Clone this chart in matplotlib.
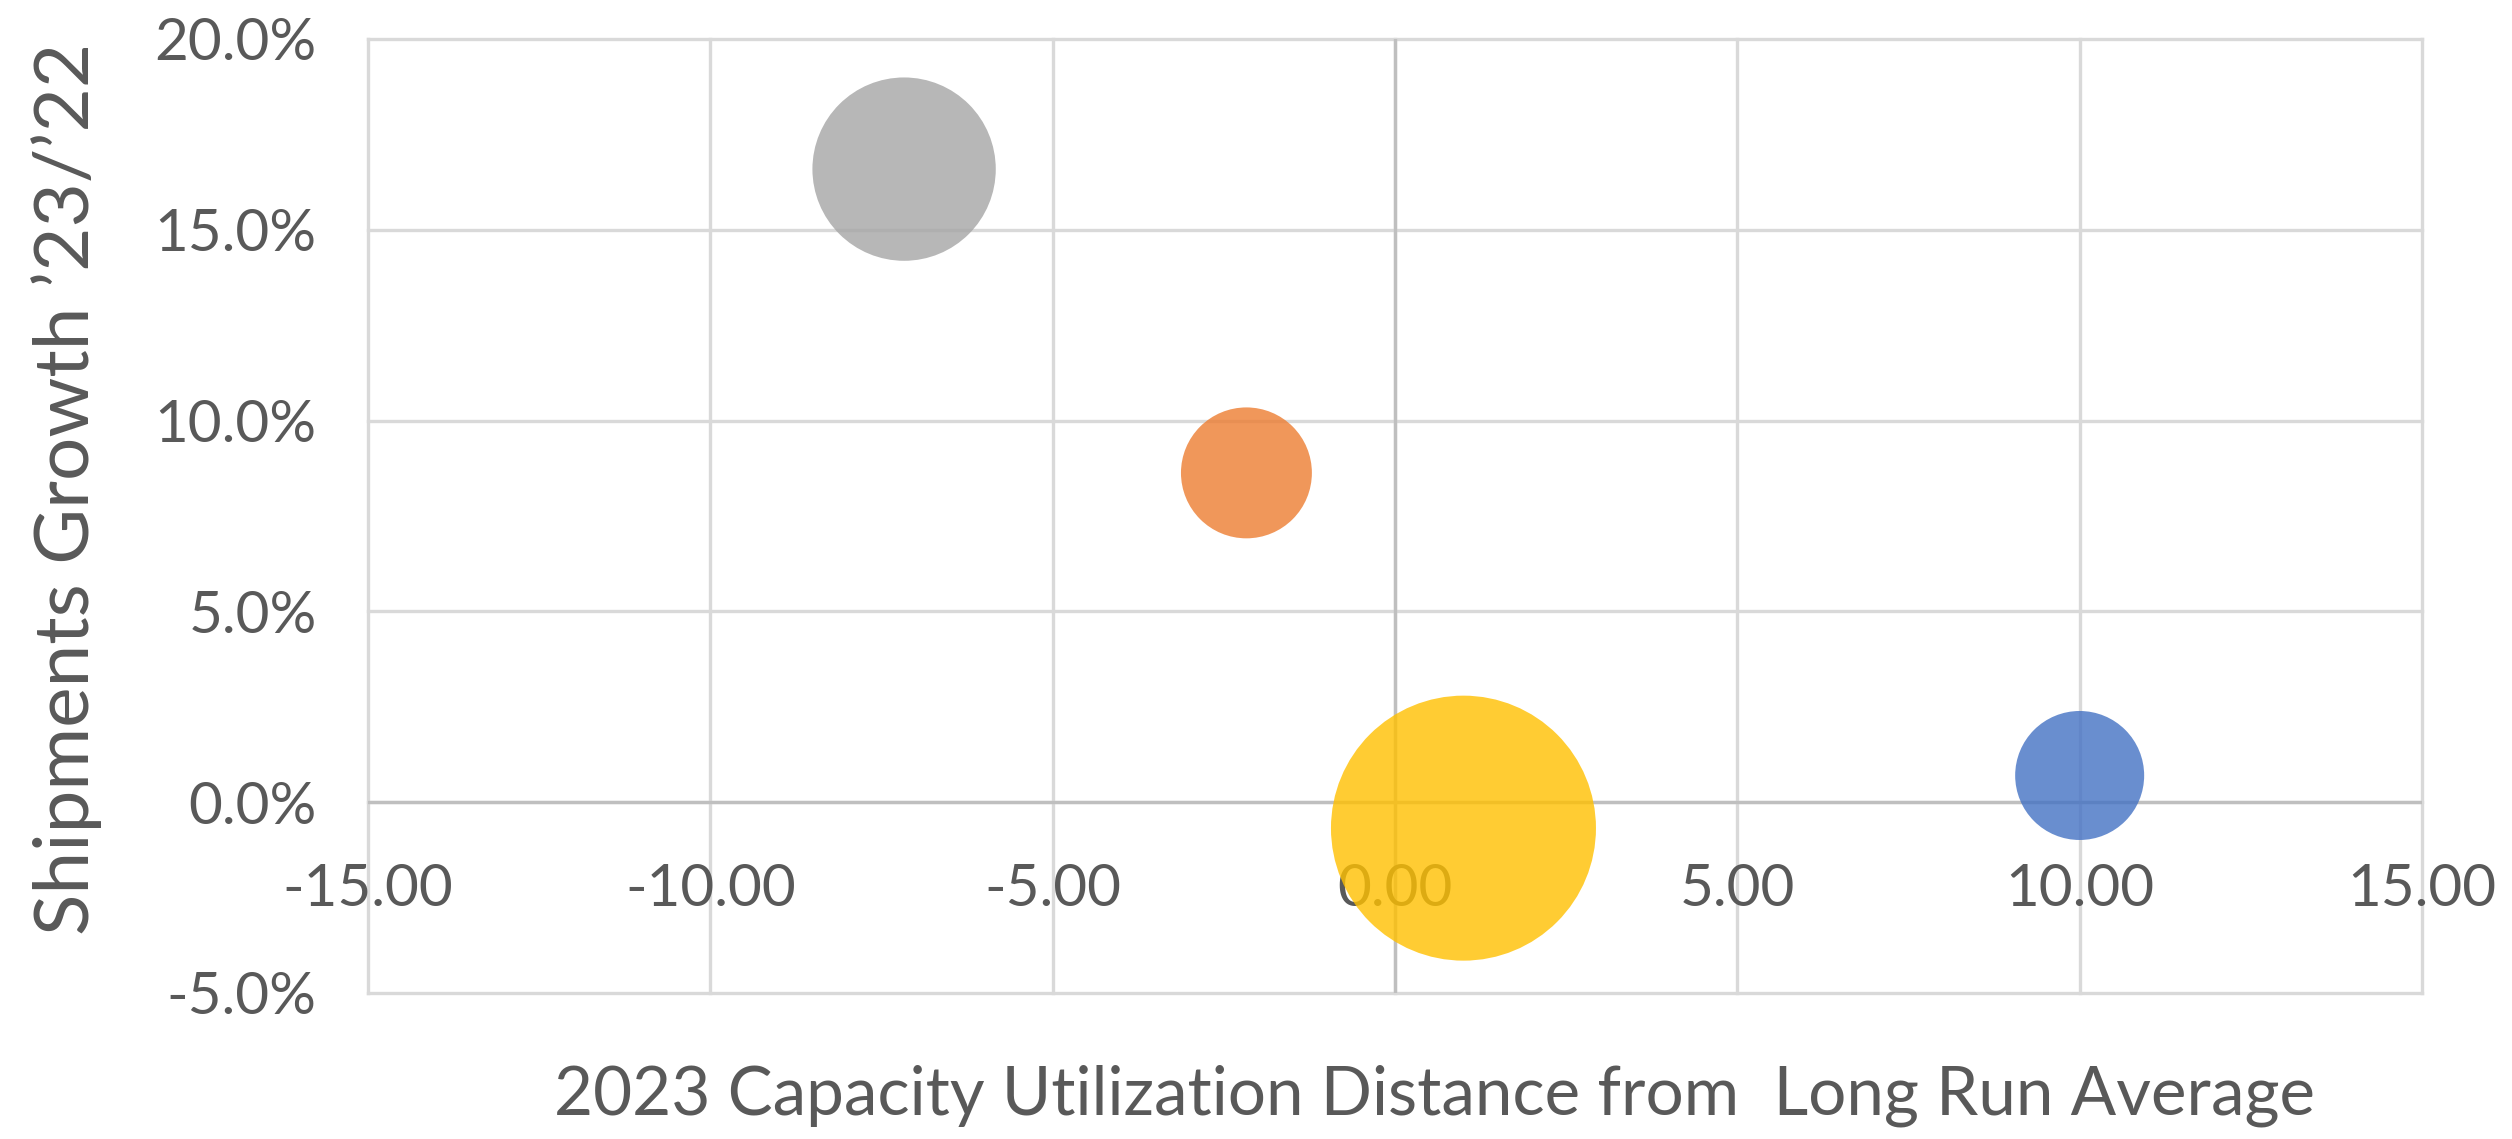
import matplotlib
matplotlib.use("Agg")
import matplotlib.pyplot as plt
import numpy as np

# --- data -------------------------------------------------------------
series_colors = ["#4472C4", "#ED7D31", "#A5A5A5", "#FFC000"]
capacity_gap = [10.0, -2.17, -7.17, 1.0]          # x: distance from long-run average
shipments_growth = [0.70, 8.63, 16.59, -0.68]      # y: growth '23/'22, in percent
bubble_size = [1.00, 1.03, 2.02, 4.22]             # relative bubble size (area)

x_ticks = [-15, -10, -5, 0, 5, 10, 15]
x_tick_labels = ["-15.00", "-10.00", "-5.00", "0.00", "5.00", "10.00", "15.00"]
y_ticks = [-5, 0, 5, 10, 15, 20]
y_tick_labels = ["-5.0%", "0.0%", "5.0%", "10.0%", "15.0%", "20.0%"]

x_title = "2023 Capacity Utilization Distance from  Long Run Average"
y_title = "Shipments Growth \u201923/\u201922"

# --- style ------------------------------------------------------------
W, H, DPI = 2512, 1139, 100
plt.rcParams["font.family"] = ["Lato", "DejaVu Sans"]
text_color = "#595959"
grid_color = "#D9D9D9"
axis_color = "#BFBFBF"

fig = plt.figure(figsize=(W / DPI, H / DPI), dpi=DPI)
ax = fig.add_axes([368 / W, 1 - 993 / H, (2422 - 368) / W, (993 - 39) / H])

ax.set_xlim(-15, 15)
ax.set_ylim(-5, 20)

# grid
ax.set_axisbelow(True)
for v in x_ticks:
    ax.axvline(v, color=grid_color, lw=2.4, zorder=0, clip_on=False)
for v in y_ticks:
    ax.axhline(v, color=grid_color, lw=2.4, zorder=0, clip_on=False)
# axes crossing at zero
ax.axvline(0, color=axis_color, lw=2.4, zorder=0.5)
ax.axhline(0, color=axis_color, lw=2.4, zorder=0.5)

# bubbles: area proportional to bubble_size, largest ~265 px across
max_diam_pt = 265 / DPI * 72
sizes = [(max_diam_pt ** 2) * b / max(bubble_size) for b in bubble_size]
ax.scatter(capacity_gap, shipments_growth, s=sizes, c=series_colors,
           alpha=0.8, linewidths=0, zorder=2)

for s in ax.spines.values():
    s.set_visible(False)
ax.spines["bottom"].set_position(("data", 0))

ax.set_xticks(x_ticks, labels=x_tick_labels)
ax.set_yticks(y_ticks, labels=y_tick_labels)
ax.tick_params(axis="both", length=0, labelsize=42, labelcolor=text_color)
ax.tick_params(axis="x", pad=44)
ax.tick_params(axis="y", pad=37)
for lbl in ax.get_xticklabels():
    lbl.set_zorder(5)

fig.text(1434 / W, 1 - 1096 / H, x_title, ha="center", va="center",
         fontsize=48.5, color=text_color)
fig.text(67 / W, 1 - 489 / H, y_title, ha="center", va="center",
         rotation=90, fontsize=55, color=text_color)

fig.savefig("out.png", dpi=DPI, facecolor="white")
